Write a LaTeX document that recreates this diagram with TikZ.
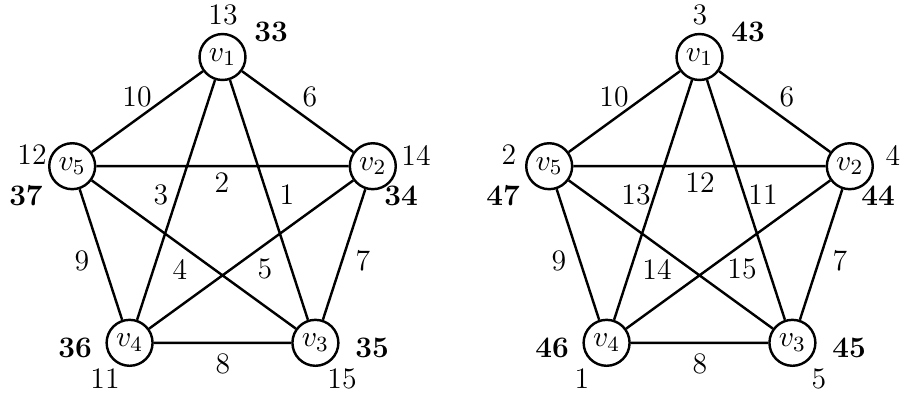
\documentclass[tikz,border=0pt]{standalone}
\begin{document}
\begin{tikzpicture}[x=0.37pt,y=-0.37pt,
  font=\fontsize{11}{13}\selectfont,
  vert/.style={circle,draw,line width=0.9pt,minimum size=17pt,inner sep=0pt},
  edge/.style={line width=0.9pt},
  lbl/.style={inner sep=0pt},
  blbl/.style={inner sep=0pt,font=\fontsize{11}{13}\selectfont\bfseries}]
\useasboundingbox (0,0) rectangle (914,392);
% ---------- left graph ----------
\begin{scope}
\node[vert] (a1) at (222.5,57) {$v_1$};
\node[vert] (a2) at (372.8,166.2) {$v_2$};
\node[vert] (a3) at (315.4,342.8) {$v_3$};
\node[vert] (a4) at (129.6,342.8) {$v_4$};
\node[vert] (a5) at (72.2,166.2) {$v_5$};
\draw[edge] (a1) -- (a2) (a1) -- (a3) (a1) -- (a4) (a1) -- (a5)
            (a2) -- (a3) (a2) -- (a4) (a2) -- (a5)
            (a3) -- (a4) (a3) -- (a5) (a4) -- (a5);
\node[lbl] (la1) at (223,15) {13};
\node[blbl] (ba1) at (271,32) {33};
\node[lbl] (la5) at (32,155) {12};
\node[blbl] (ba5) at (26,196) {37};
\node[lbl] (la2) at (416,155) {14};
\node[blbl] (ba2) at (401,196) {34};
\node[blbl] (ba4) at (75,348) {36};
\node[lbl] (la4) at (105,379) {11};
\node[blbl] (ba3) at (372,348) {35};
\node[lbl] (la3) at (342,379) {15};
\node[lbl] (e15) at (137,97) {10};
\node[lbl] (e12) at (310,97) {6};
\node[lbl] (e25) at (222,183) {2};
\node[lbl] (e14) at (161,195) {3};
\node[lbl] (e13) at (287,195) {1};
\node[lbl] (e45) at (82,261) {9};
\node[lbl] (e24) at (180,269) {4};
\node[lbl] (e35) at (265,269) {5};
\node[lbl] (e23) at (363,261) {7};
\node[lbl] (e34) at (223,364) {8};
\end{scope}
% ---------- right graph ----------
\begin{scope}[shift={(477,0)}]
\node[vert] (b1) at (222.5,57) {$v_1$};
\node[vert] (b2) at (372.8,166.2) {$v_2$};
\node[vert] (b3) at (315.4,342.8) {$v_3$};
\node[vert] (b4) at (129.6,342.8) {$v_4$};
\node[vert] (b5) at (72.2,166.2) {$v_5$};
\draw[edge] (b1) -- (b2) (b1) -- (b3) (b1) -- (b4) (b1) -- (b5)
            (b2) -- (b3) (b2) -- (b4) (b2) -- (b5)
            (b3) -- (b4) (b3) -- (b5) (b4) -- (b5);
\node[lbl] (lb1) at (223,15) {3};
\node[blbl] (bb1) at (271,32) {43};
\node[lbl] (lb5) at (32,155) {2};
\node[blbl] (bb5) at (26,196) {47};
\node[lbl] (lb2) at (416,155) {4};
\node[blbl] (bb2) at (401,196) {44};
\node[blbl] (bb4) at (75,348) {46};
\node[lbl] (lb4) at (105,379) {1};
\node[blbl] (bb3) at (372,348) {45};
\node[lbl] (lb3) at (342,379) {5};
\node[lbl] (f15) at (137,97) {10};
\node[lbl] (f12) at (310,97) {6};
\node[lbl] (f25) at (223,183) {12};
\node[lbl] (f14) at (159,195) {13};
\node[lbl] (f13) at (286,195) {11};
\node[lbl] (f45) at (82,261) {9};
\node[lbl] (f24) at (180,269) {14};
\node[lbl] (f35) at (265,269) {15};
\node[lbl] (f23) at (363,261) {7};
\node[lbl] (f34) at (223,364) {8};
\end{scope}
\end{tikzpicture}
\end{document}
